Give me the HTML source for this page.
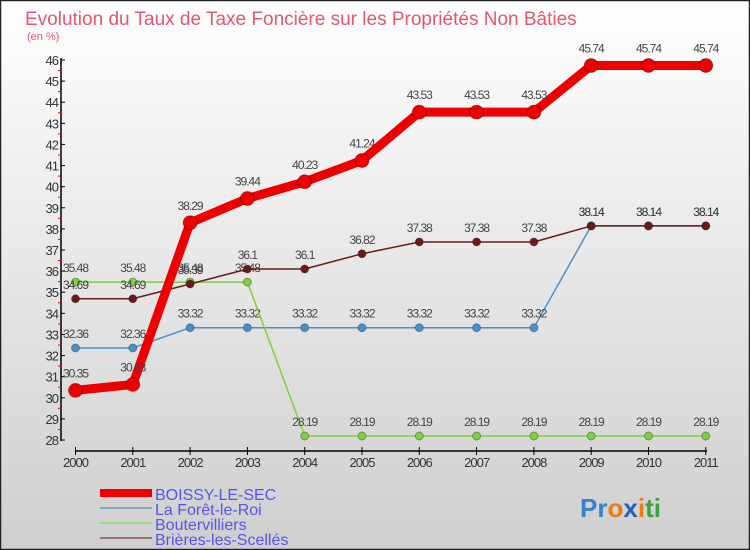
<!DOCTYPE html>
<html><head><meta charset="utf-8"><style>
body{margin:0;}
#wrap{width:750px;height:550px;position:relative;overflow:hidden;font-family:"Liberation Sans",sans-serif;}
</style></head><body>
<div id="wrap">
<svg id="svg" width="750" height="550" xmlns="http://www.w3.org/2000/svg">
<defs><linearGradient id="bg" x1="0" y1="0" x2="0" y2="1"><stop offset="0" stop-color="#ffffff"/><stop offset="1" stop-color="#cfcfcf"/></linearGradient></defs>
<rect x="0.5" y="0.5" width="749" height="549" fill="url(#bg)" stroke="#222" stroke-width="1.5"/>
<text x="25" y="25" font-size="19" fill="#e8566e">Evolution du Taux de Taxe Foncière sur les Propriétés Non Bâties</text>
<text x="27" y="40" font-size="11" fill="#e8566e">(en %)</text>
<g id="axes"></g>
<g id="series"></g>
<g id="legend">
<rect x="100" y="489" width="52" height="8" fill="#ee0000"/>
<text x="155" y="500" font-size="16" fill="#5555ee">BOISSY-LE-SEC</text>
<line x1="100" y1="508" x2="152" y2="508" stroke="#7fa8c8" stroke-width="2"/>
<text x="155" y="515" font-size="16" fill="#5555ee">La Forêt-le-Roi</text>
<line x1="100" y1="523" x2="152" y2="523" stroke="#98d880" stroke-width="2"/>
<text x="155" y="530" font-size="16" fill="#5555ee">Boutervilliers</text>
<line x1="100" y1="538" x2="152" y2="538" stroke="#9a7070" stroke-width="2"/>
<text x="155" y="545" font-size="16" fill="#5555ee">Brières-les-Scellés</text>
</g>
<text x="580" y="517" font-size="26" font-weight="bold"><tspan fill="#3a7fd0">Pr</tspan><tspan fill="#f07a10">o</tspan><tspan fill="#2060c0">x</tspan><tspan fill="#f07a10">i</tspan><tspan fill="#40a040">ti</tspan></text>
</svg>
</div>
<script>
const years=["2000","2001","2002","2003","2004","2005","2006","2007","2008","2009","2010","2011"];
const yTicks=[28,29,30,31,32,33,34,35,36,37,38,39,40,41,42,43,44,45,46];
const boissy=[30.35,30.63,38.29,39.44,40.23,41.24,43.53,43.53,43.53,45.74,45.74,45.74];
const laforet=[32.36,32.36,33.32,33.32,33.32,33.32,33.32,33.32,33.32,38.14,38.14,38.14];
const bouter=[35.48,35.48,35.48,35.48,28.19,28.19,28.19,28.19,28.19,28.19,28.19,28.19];
const brieres=[34.69,34.69,35.39,36.1,36.1,36.82,37.38,37.38,37.38,38.14,38.14,38.14];
const NS="http://www.w3.org/2000/svg";
const x=i=>75.5+i*57.3;
const y=v=>440-(v-28)*(380/18);
function mk(tag,attrs,parent){const e=document.createElementNS(NS,tag);for(const k in attrs)e.setAttribute(k,attrs[k]);parent.appendChild(e);return e;}
const ax=document.getElementById('axes');
let l=mk('line',{x1:61,y1:58,x2:61,y2:441,stroke:'#000','stroke-width':1.5},ax);


l=mk('line',{x1:75,y1:451,x2:707,y2:451,stroke:'#000','stroke-width':1.5},ax);


yTicks.forEach(v=>{
 mk('line',{x1:61,y1:y(v),x2:65,y2:y(v),stroke:'#000'},ax);
 if(v<46) mk('line',{x1:58,y1:y(v+0.5),x2:62,y2:y(v+0.5),stroke:'#e00'},ax);
 const t=mk('text',{x:58,y:y(v)+5,'font-size':13,fill:'#333','text-anchor':'end','letter-spacing':'-1'},ax);
 t.textContent=v;
 
 
});
years.forEach((yr,i)=>{
 mk('line',{x1:x(i),y1:447,x2:x(i),y2:455,stroke:'#000'},ax);
 const t=mk('text',{x:x(i),y:467,'font-size':13,fill:'#333','text-anchor':'middle','letter-spacing':'-1'},ax);
 t.textContent=yr;
 
 
});
const sg=document.getElementById('series');
function series(data,color,w,r,name,labelDy){
 const g=mk('g',{},sg);
 
 
 const p=mk('polyline',{points:data.map((v,i)=>x(i)+','+y(v)).join(' '),fill:'none',stroke:color,'stroke-width':w,'stroke-linejoin':'round'},g);
 
 
 data.forEach((v,i)=>{
  const c=mk('circle',{cx:x(i),cy:y(v),r:r,fill:color,stroke:'rgba(0,0,0,0.3)'},g);
  
  
  const t=mk('text',{x:x(i),y:y(v)-labelDy,'font-size':12,fill:'#444','text-anchor':'middle','letter-spacing':'-1'},g);
  t.textContent=v.toFixed(2).replace(/0$/,'');
  
  
 });
}
series(laforet,'#4a90c8',1.5,4,'laforet-series',10);
series(bouter,'#7ed040',1.5,4,'boutervilliers-series',10);
series(brieres,'#6b1a1a',1.5,4,'brieres-series',10);
series(boissy,'#ee0000',9,7,'boissy-series',13);
</script>
</body></html>
